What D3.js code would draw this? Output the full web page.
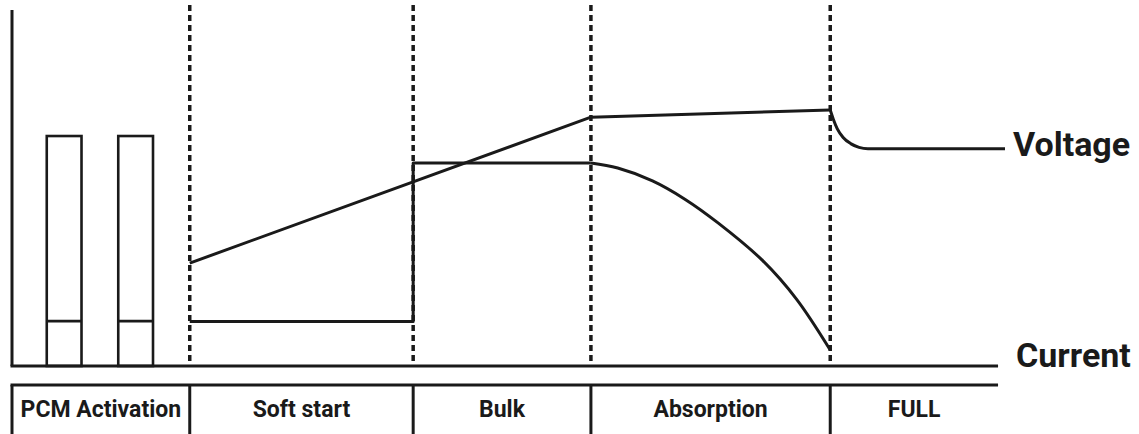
<!DOCTYPE html>
<html>
<head>
<meta charset="utf-8">
<script src="https://cdn.jsdelivr.net/npm/d3@7"></script>
<style>
  body { margin: 0; background: #fff; }
  text { font-family: Roboto, "Noto Sans", sans-serif; font-weight: 700; fill: #1a1a1a; }
</style>
</head>
<body>
<div id="chart"></div>
<script>
// charging stages and where each one starts/ends (time units)
const phases = ["PCM Activation", "Soft start", "Bulk", "Absorption", "FULL"];
const phaseEdges = [0, 17.9, 40.4, 58.3, 82.4, 99.3];

// PCM activation pulses
const pulseStarts = [3.5, 10.7];
const pulseWidth = 3.5;
const pulseTop = 64.6;
const pulseCurrent = 12.6;

// voltage: straight ramp then decay to float level
const voltageRamp = [[17.9, 28.9], [58.3, 69.9], [82.4, 71.9]];
const voltageDecay = [[82.4, 71.9], [82.7, 69.4], [83.1, 66.7], [83.7, 64.2], [84.5, 62.4], [85.3, 61.4], [86.2, 61.0], [100, 61.0]];

// current: low soft start, step up, constant bulk, falling in absorption
const currentStep = [[17.9, 12.5], [40.4, 12.5], [40.4, 57.0], [58.3, 57.0]];
const currentFall = [[58.3, 57.0], [61.0, 55.6], [64.5, 52.0], [67.8, 46.8], [71.1, 40.2], [75.6, 29.6], [79.0, 18.8], [82.4, 4.5]];

const width = 1139, height = 434;
const ink = "#1a1a1a";

const svg = d3.select("#chart").append("svg")
    .attr("width", width)
    .attr("height", height);

const x = d3.scaleLinear().domain([0, 100]).range([12, 1005]);
const y = d3.scaleLinear().domain([0, 100]).range([366, 10]);

const xEnd = x(phaseEdges[phaseEdges.length - 1]);
const tableTop = 385;

// dashed stage separators
svg.selectAll("line.sep")
    .data(phaseEdges.slice(1, -1))
    .enter()
    .append("line")
    .attr("class", "sep")
    .attr("x1", d => x(d)).attr("x2", d => x(d))
    .attr("y1", 5).attr("y2", y(1))
    .attr("stroke", ink)
    .attr("stroke-width", 3.5)
    .attr("stroke-dasharray", "6,4");

// axes
svg.append("line")
    .attr("x1", x(0)).attr("x2", x(0))
    .attr("y1", y(100)).attr("y2", y(0))
    .attr("stroke", ink).attr("stroke-width", 3);
svg.append("line")
    .attr("x1", x(0) - 1.5).attr("x2", xEnd)
    .attr("y1", y(0)).attr("y2", y(0))
    .attr("stroke", ink).attr("stroke-width", 3);

// PCM pulses
const pulses = svg.selectAll("g.pulse")
    .data(pulseStarts)
    .enter()
    .append("g")
    .attr("class", "pulse");

pulses.append("rect")
    .attr("x", d => x(d))
    .attr("y", y(pulseTop))
    .attr("width", d => x(d + pulseWidth) - x(d))
    .attr("height", y(0) - y(pulseTop))
    .attr("fill", "none")
    .attr("stroke", ink)
    .attr("stroke-width", 2.6);

pulses.append("line")
    .attr("x1", d => x(d)).attr("x2", d => x(d + pulseWidth))
    .attr("y1", y(pulseCurrent)).attr("y2", y(pulseCurrent))
    .attr("stroke", ink).attr("stroke-width", 2.6);

// curves
const straight = d3.line().x(d => x(d[0])).y(d => y(d[1]));
const smooth = d3.line().x(d => x(d[0])).y(d => y(d[1])).curve(d3.curveMonotoneX);
const round = d3.line().x(d => x(d[0])).y(d => y(d[1])).curve(d3.curveCatmullRom.alpha(0.5));

[[voltageRamp, straight], [voltageDecay, smooth], [currentStep, straight], [currentFall, round]]
    .forEach(([pts, gen]) => {
        svg.append("path")
            .attr("d", gen(pts))
            .attr("fill", "none")
            .attr("stroke", ink)
            .attr("stroke-width", 3)
            .attr("stroke-linejoin", "round");
    });

// series labels
svg.append("text")
    .attr("x", 1013).attr("y", y(voltageDecay[voltageDecay.length - 1][1]) + 7)
    .attr("font-size", 34)
    .text("Voltage");
svg.append("text")
    .attr("x", 1016).attr("y", y(0) + 1)
    .attr("font-size", 34)
    .text("Current");

// stage table
svg.append("line")
    .attr("x1", x(0) - 1.5).attr("x2", xEnd)
    .attr("y1", tableTop).attr("y2", tableTop)
    .attr("stroke", ink).attr("stroke-width", 3);

svg.selectAll("line.div")
    .data(phaseEdges.slice(0, -1))
    .enter()
    .append("line")
    .attr("class", "div")
    .attr("x1", d => x(d)).attr("x2", d => x(d))
    .attr("y1", tableTop).attr("y2", height)
    .attr("stroke", ink)
    .attr("stroke-width", 3);

svg.selectAll("text.phase")
    .data(phases)
    .enter()
    .append("text")
    .attr("class", "phase")
    .attr("x", (d, i) => (x(phaseEdges[i]) + x(phaseEdges[i + 1])) / 2)
    .attr("y", 417)
    .attr("text-anchor", "middle")
    .attr("font-size", 23)
    .text(d => d);
</script>
</body>
</html>
